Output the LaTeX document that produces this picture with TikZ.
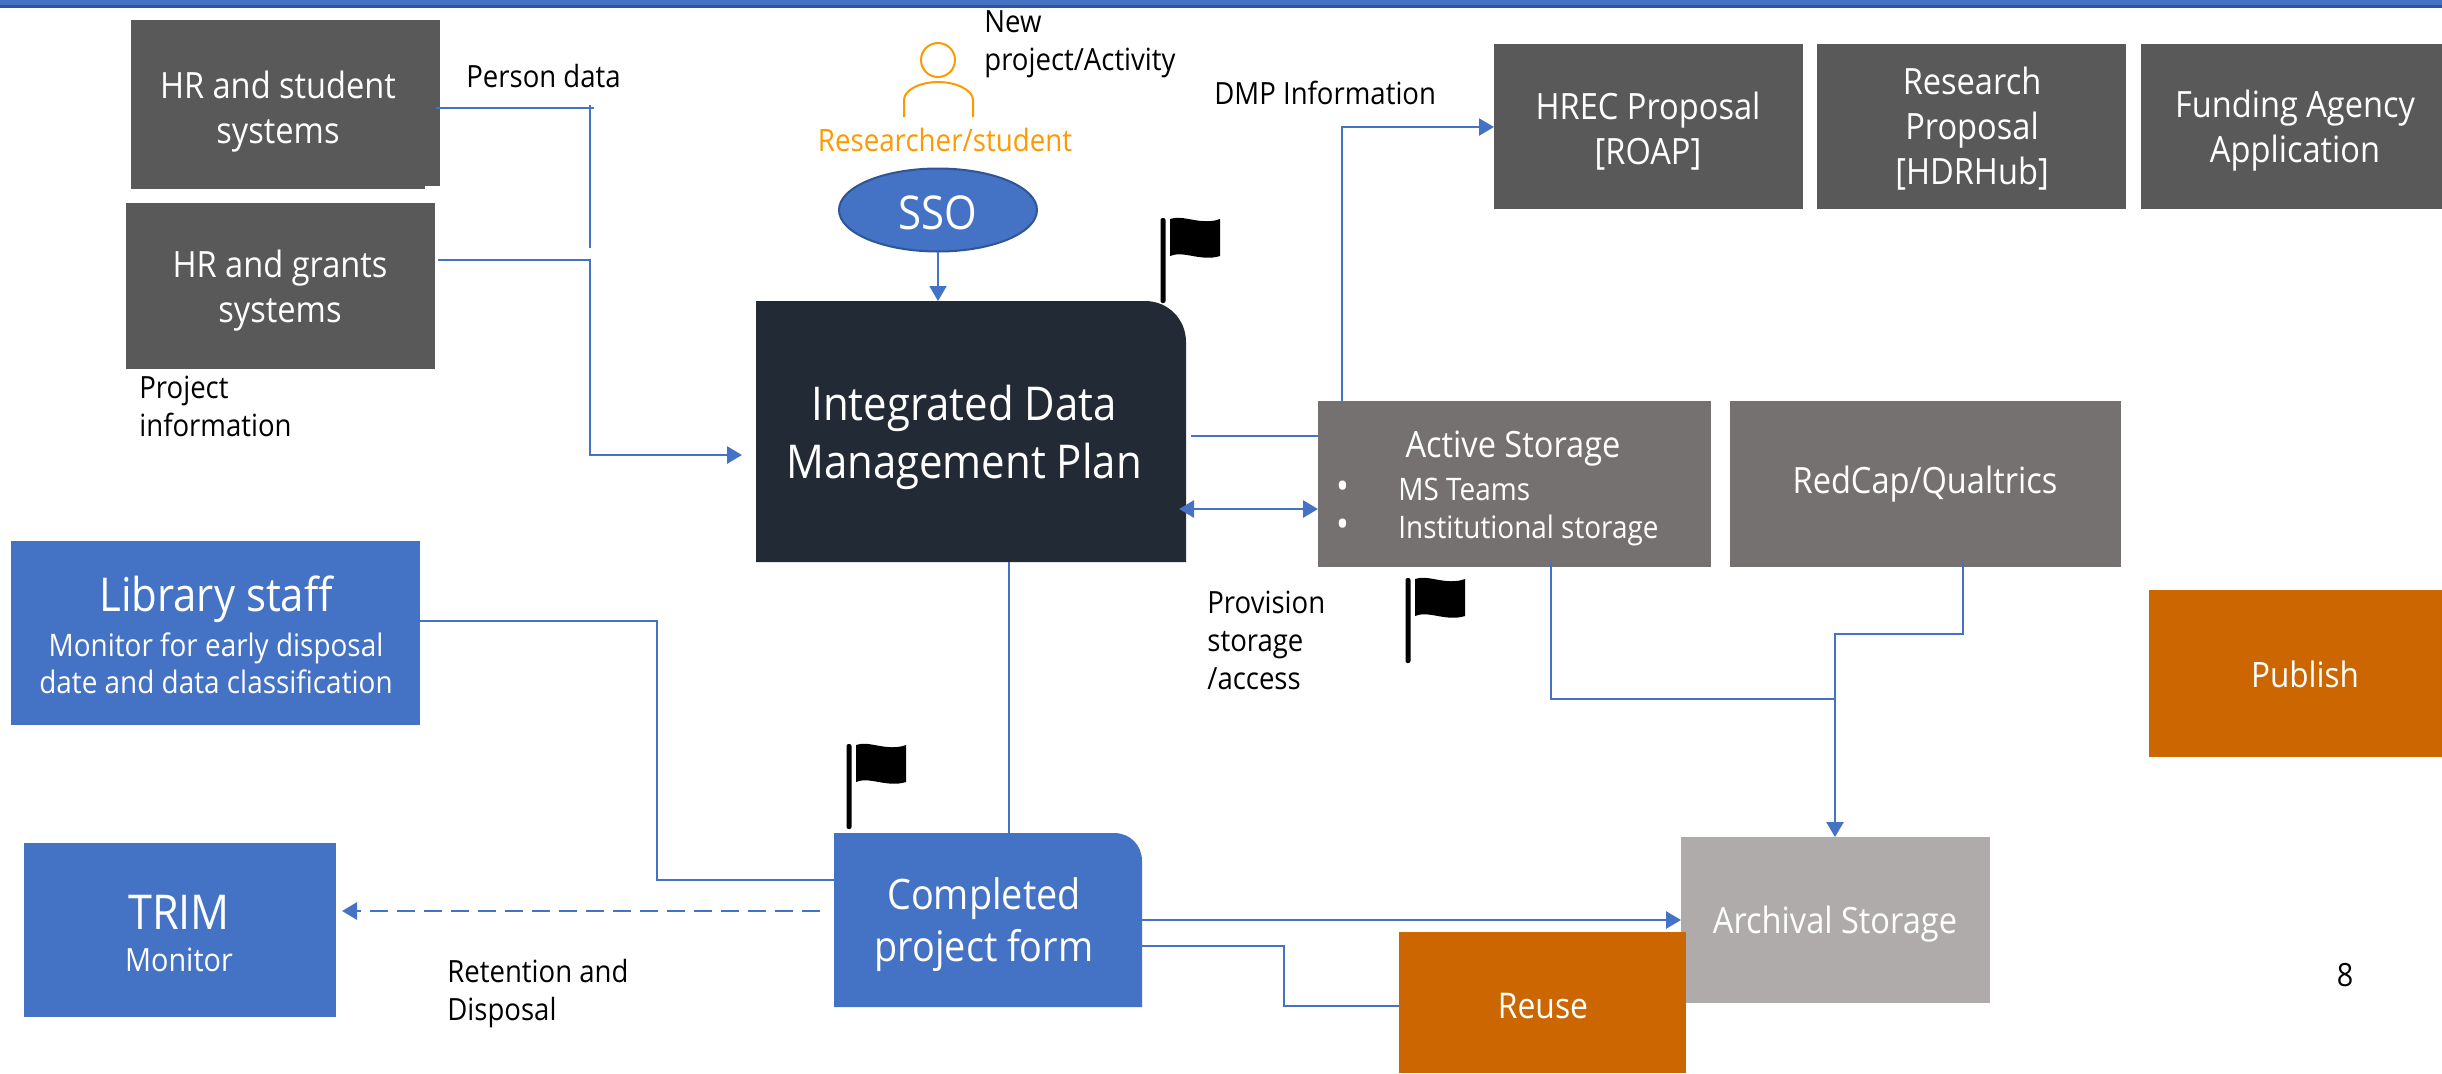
\documentclass[tikz,border=0pt]{standalone}
\usepackage{fontspec}
\setmainfont{Open Sans}[FakeStretch=0.9]
\usetikzlibrary{arrows.meta,shapes.geometric}
\definecolor{dkgrey}{HTML}{595959}
\definecolor{midgrey}{HTML}{767171}
\definecolor{ltgrey}{HTML}{AFABAB}
\definecolor{navy}{HTML}{222A35}
\definecolor{bblue}{HTML}{4472C4}
\definecolor{bbar}{HTML}{2F5597}
\definecolor{rust}{HTML}{CC6600}
\definecolor{amber}{HTML}{FF9900}
\newcommand\sz[2]{\fontsize{#1}{#2}\selectfont}
\newcommand\bx[6]{\node[boxn,fill=#6,minimum width={(#4-#2)*0.5pt},minimum height={(#5-#3)*0.5pt}] (#1) at ({(#2+#4)/2},{(#3+#5)/2}) {};}
\tikzset{
  boxn/.style={rectangle,inner sep=0pt,outer sep=0pt,draw=none},
  whitebig/.style={text=white,align=center,inner sep=0pt,font=\sz{23.3}{29}},
  whitemid/.style={text=white,align=center,inner sep=0pt,font=\sz{18.1}{22.5}},
  whitesmall/.style={text=white,align=left,inner sep=0pt,font=\sz{15.5}{19}},
  lab/.style={text=black,align=left,inner sep=0pt,anchor=west,font=\sz{15.3}{19}},
  conn/.style={draw=bblue,line width=1.4pt},
  thinconn/.style={draw=bblue,line width=0.6pt},
  tip/.style={-{Triangle[length=7.5pt,width=8.5pt]}},
  flagpic/.pic={
    \fill[black,rounded corners=1pt] (-2.5,0) rectangle (2.5,85);
    \fill[black] (7,1) .. controls (20,-4) and (38,8) .. (57,1) -- (57,38)
      .. controls (38,44) and (20,32) .. (7,38) -- cycle;
  }
}
\begin{document}
\begin{tikzpicture}[x=0.5pt,y=-0.5pt]
\useasboundingbox (0,0) rectangle (2442,1073);
% top bar
\fill[bblue] (0,0) rectangle (2442,6);
\fill[bbar] (0,5) rectangle (2442,8);
% boxes
\bx{hrs}{131}{20}{440}{186}{dkgrey}
\fill[dkgrey] (131,186) rectangle (425,189);
\bx{hrg}{126}{203}{435}{369}{dkgrey}
\bx{hrec}{1494}{44}{1803}{209}{dkgrey}
\bx{rp}{1817}{44}{2126}{209}{dkgrey}
\bx{fa}{2141}{44}{2442}{209}{dkgrey}
\bx{act}{1318}{401}{1711}{567}{midgrey}
\bx{red}{1730}{401}{2121}{567}{midgrey}
\bx{lib}{11}{541}{420}{725}{bblue}
\bx{trim}{24}{843}{336}{1017}{bblue}
\bx{pub}{2149}{590}{2442}{757}{rust}
\bx{arc}{1681}{837}{1990}{1003}{ltgrey}
\bx{reu}{1399}{932}{1686}{1073}{rust}
% rounded one-corner shapes
\fill[navy] (756,301) -- (1145,301) .. controls (1168,301) and (1186,319) .. (1186,342) -- (1186,562) -- (756,562) -- cycle;
\node[boxn,minimum width=215pt,minimum height=130.5pt] (plan) at (971,431.5) {};
\fill[bblue] (834,833) -- (1114,833) .. controls (1130,833) and (1142,845) .. (1142,861) -- (1142,1007) -- (834,1007) -- cycle;
\node[boxn,minimum width=154pt,minimum height=87pt] (form) at (988,920) {};
\node[ellipse,fill=bblue,draw=bbar,line width=1pt,minimum width=99pt,minimum height=41.5pt,inner sep=0pt,outer sep=0pt] (sso) at (938,210) {};
% person
\draw[amber,line width=1pt] (938,60) ellipse[x radius=17,y radius=17];
\draw[amber,line width=1pt] (904,117) -- (904,100) .. controls (904,90) and (920,82) .. (938,82) .. controls (956,82) and (973,90) .. (973,100) -- (973,117);
% flags
\pic at (1163,218) {flagpic};
\pic at (1408,578) {flagpic};
\pic at (849,744) {flagpic};
% connectors
\coordinate (pcorner) at (590,108);
\coordinate (pend) at (590,248);
\draw[thinconn,line width=0.8pt] (hrs.east |- pcorner) ++(-4,0) -- (594,108);
\draw[thinconn] (590,105) -- (pend);
\coordinate (gcorner) at (590,260);
\coordinate (gbend) at (590,455);
\draw[conn,tip] (hrg.east |- gcorner) ++(3,0) -- (gcorner) -- (gbend) -- ([xshift=-7pt]plan.west |- gbend);
\draw[thinconn,line width=1pt,tip] (sso.south) -- (plan.north -| sso.south);
\coordinate (dmpb) at (1342,127);
\draw[thinconn,line width=1.1pt,tip] (act.north -| dmpb) -- (dmpb) -- (hrec.west |- dmpb);
\coordinate (pa) at (1191,436);
\draw[conn] (pa) -- (act.west |- pa);
\coordinate (da) at (1248,509);
\draw[conn,{Triangle[length=7.5pt,width=8.5pt]}-{Triangle[length=7.5pt,width=8.5pt]}] ([xshift=-3.5pt]plan.east |- da) -- (act.west |- da);
\coordinate (ab1) at (1551,699);
\coordinate (ab2) at (1835,699);
\coordinate (rb1) at (1963,634);
\coordinate (rb2) at (1835,634);
\draw[thinconn] (red.south -| rb1) ++(0,-6) -- (rb1) -- (rb2) -- (ab2);
\draw[conn] (act.south -| ab1) ++(0,-6) -- (ab1) -- (ab2);
\draw[conn,tip] (ab2) -- (arc.north -| ab2);
\coordinate (pf) at (1009,600);
\draw[thinconn,line width=1.1pt] (plan.south -| pf) -- (form.north -| pf);
\coordinate (lb1) at (657,621);
\coordinate (lb2) at (657,880);
\draw[conn] (lib.east |- lb1) -- (lb1) -- (lb2) -- (form.west |- lb2);
\coordinate (tr) at (600,911);
\draw[conn,dashed,dash pattern=on 9pt off 4.5pt,tip] ([xshift=-7pt]form.west |- tr) -- ([xshift=3pt]trim.east |- tr);
\coordinate (fa1) at (1400,920);
\draw[conn,tip] (form.east |- fa1) -- (arc.west |- fa1);
\coordinate (fr1) at (1284,946);
\coordinate (fr2) at (1284,1006);
\draw[conn] (form.east |- fr1) -- (fr1) -- (fr2) -- (reu.west |- fr2);
% texts in boxes
\node[whitemid] (t-hrs) at (278,112) {HR and student\\systems};
\node[whitemid] (t-hrg) at (280,291) {HR and grants\\systems};
\node[whitemid] (t-hrec) at (1648,131) {HREC Proposal\\{}[ROAP]};
\node[whitemid] (t-rp) at (1972,129) {Research\\Proposal\\{}[HDRHub]};
\node[whitemid] (t-fa) at (2295,131) {Funding Agency\\Application};
\node[whitemid] (t-red) at (1925,484) {RedCap/Qualtrics};
\node[whitemid] (t-act) at (1513,449) {Active Storage};
\node[whitesmall,anchor=west] (t-ms) at (1398,489) {MS Teams};
\node[whitesmall,anchor=west] (t-inst) at (1398,530) {Institutional storage};
\node[whitesmall,font=\sz{19}{19}] (b1) at (1343,490) {•};
\node[whitesmall,font=\sz{19}{19}] (b2) at (1343,528) {•};
\node[whitebig] (t-plan) at (964,437) {Integrated Data\\Management Plan};
\node[whitebig] (t-sso) at (938,213) {SSO};
\node[whitebig,font=\sz{21}{26}] (t-form) at (984,925) {Completed\\project form};
\node[whitebig] (t-lib1) at (216,599) {Library staff};
\node[whitemid,font=\sz{15.5}{18.5}] (t-lib2) at (216,663) {Monitor for early disposal\\date and data classification};
\node[whitebig,font=\sz{24}{29}] (t-trim) at (179,912) {TRIM};
\node[whitemid,font=\sz{16}{18}] (t-trim2) at (179,960) {Monitor};
\node[whitemid,font=\sz{17.5}{18}] (t-pub) at (2305,674) {Publish};
\node[whitemid,font=\sz{17.7}{18}] (t-reu) at (1543,1006) {Reuse};
\node[whitemid] (t-arc) at (1835,924) {Archival Storage};
% labels
\node[lab] (l-pd) at (466,76) {Person data};
\node[lab] (l-new) at (984,44) {New\\project/Activity};
\node[lab] (l-dmp) at (1214,93) {DMP Information};
\node[lab] (l-pi) at (139,406) {Project\\information};
\node[lab] (l-ps) at (1207,640) {Provision\\storage\\/access};
\node[lab] (l-rd) at (447,994) {Retention and\\Disposal};
\node[text=amber,inner sep=0pt,font=\sz{15.4}{18}] (l-res) at (945,140) {Researcher/student};
\node[text=black,inner sep=0pt,font=\sz{16}{18}] (l-8) at (2345,975) {8};
\end{tikzpicture}
\end{document}
